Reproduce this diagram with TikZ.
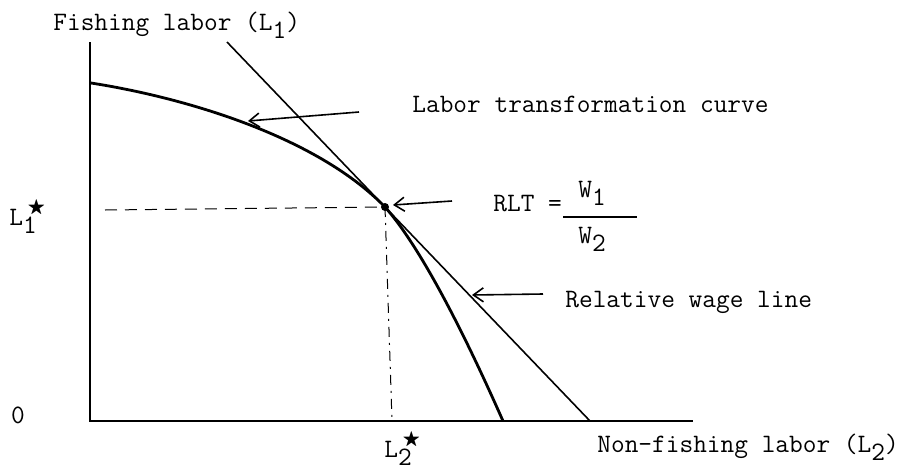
\documentclass[tikz,border=0pt]{standalone}
\usepackage{amsmath}
\usepackage{amssymb}
\usepackage{fontspec}
\usetikzlibrary{positioning, arrows.meta}

\newcommand{\labL}[2]{L\rlap{\raisebox{-0.75ex}{#1}}\raisebox{1.1ex}{\,$\scriptstyle#2$}}
\newcommand{\subdig}[1]{\raisebox{-0.75ex}{#1}}

\begin{document}
\begin{tikzpicture}[x=0.5pt, y=-0.5pt,
    txt/.style={font=\ttfamily\fontsize{13.3}{15}\selectfont, inner sep=0pt},
    pointer/.style={-{Straight Barb[length=5pt, width=7pt]}, line width=0.8pt},
    guide/.style={line width=0.5pt, dash pattern=on 6pt off 4pt}]
    \useasboundingbox (0,0) rectangle (907,472);

    % Axes
    \coordinate (O) at (90,421);
    \coordinate (ytop) at (90,42);
    \coordinate (xend) at (693,421);
    \draw[line width=1pt] (ytop) -- (O) -- (xend);

    % Courbe et droite
    \coordinate (c0) at (91,83);
    \coordinate (T) at (385,207);
    \coordinate (c1) at (503,421);
    \coordinate (wtop) at (227,42);
    \coordinate (wbot) at (590,421);
    \draw[line width=0.8pt] (wtop) -- (wbot);
    \draw[line width=1.4pt] (c0) .. controls (181,97) and (315,135) .. (T)
        .. controls (425,252) and (473,353) .. (c1);
    \fill (T) circle (2pt);

    % Pointillés
    \coordinate (hstart) at (105,210);
    \coordinate (vfoot) at (392,421);
    \draw[guide] (hstart) -- (T);
    \draw[line width=0.5pt, dash pattern=on 5pt off 3pt on 1pt off 3pt] (T) -- (vfoot);

    % Textes
    \node[txt, anchor=base west] (ylab) at (53,30) {Fishing labor (L\subdig{1})};
    \node[txt, anchor=base west] (xlab) at (597,452) {Non-fishing labor (L\subdig{2})};
    \node[txt] (zero) at (18,415) {0};
    \node[txt, anchor=base west] (lone) at (9,225) {\labL{1}{\bigstar}};
    \node[txt, anchor=base west] (ltwo) at (384,457) {\labL{2}{\bigstar}};

    \node[txt, anchor=base west] (curvelab) at (412,112) {Labor transformation curve};
    \node[txt, anchor=base west] (rlt) at (493,211) {RLT =};
    \node[txt, anchor=base west] (wone) at (578,197) {W\subdig{1}};
    \node[txt, anchor=base west] (wtwo) at (578,243) {W\subdig{2}};
    \draw[line width=0.7pt] (563,217) -- (637,217);
    \node[txt, anchor=base west] (wagelab) at (565,307) {Relative wage line};

    % Flèches
    \coordinate (tcurve) at (359,112);
    \coordinate (hcurve) at (248,121);
    \coordinate (trlt) at (452,201);
    \coordinate (hrlt) at (393,205);
    \coordinate (twage) at (543,294);
    \coordinate (hwage) at (472,295);
    \draw[pointer] (tcurve) -- (hcurve);
    \draw[pointer] (trlt) -- (hrlt);
    \draw[pointer] (twage) -- (hwage);
\end{tikzpicture}
\end{document}
